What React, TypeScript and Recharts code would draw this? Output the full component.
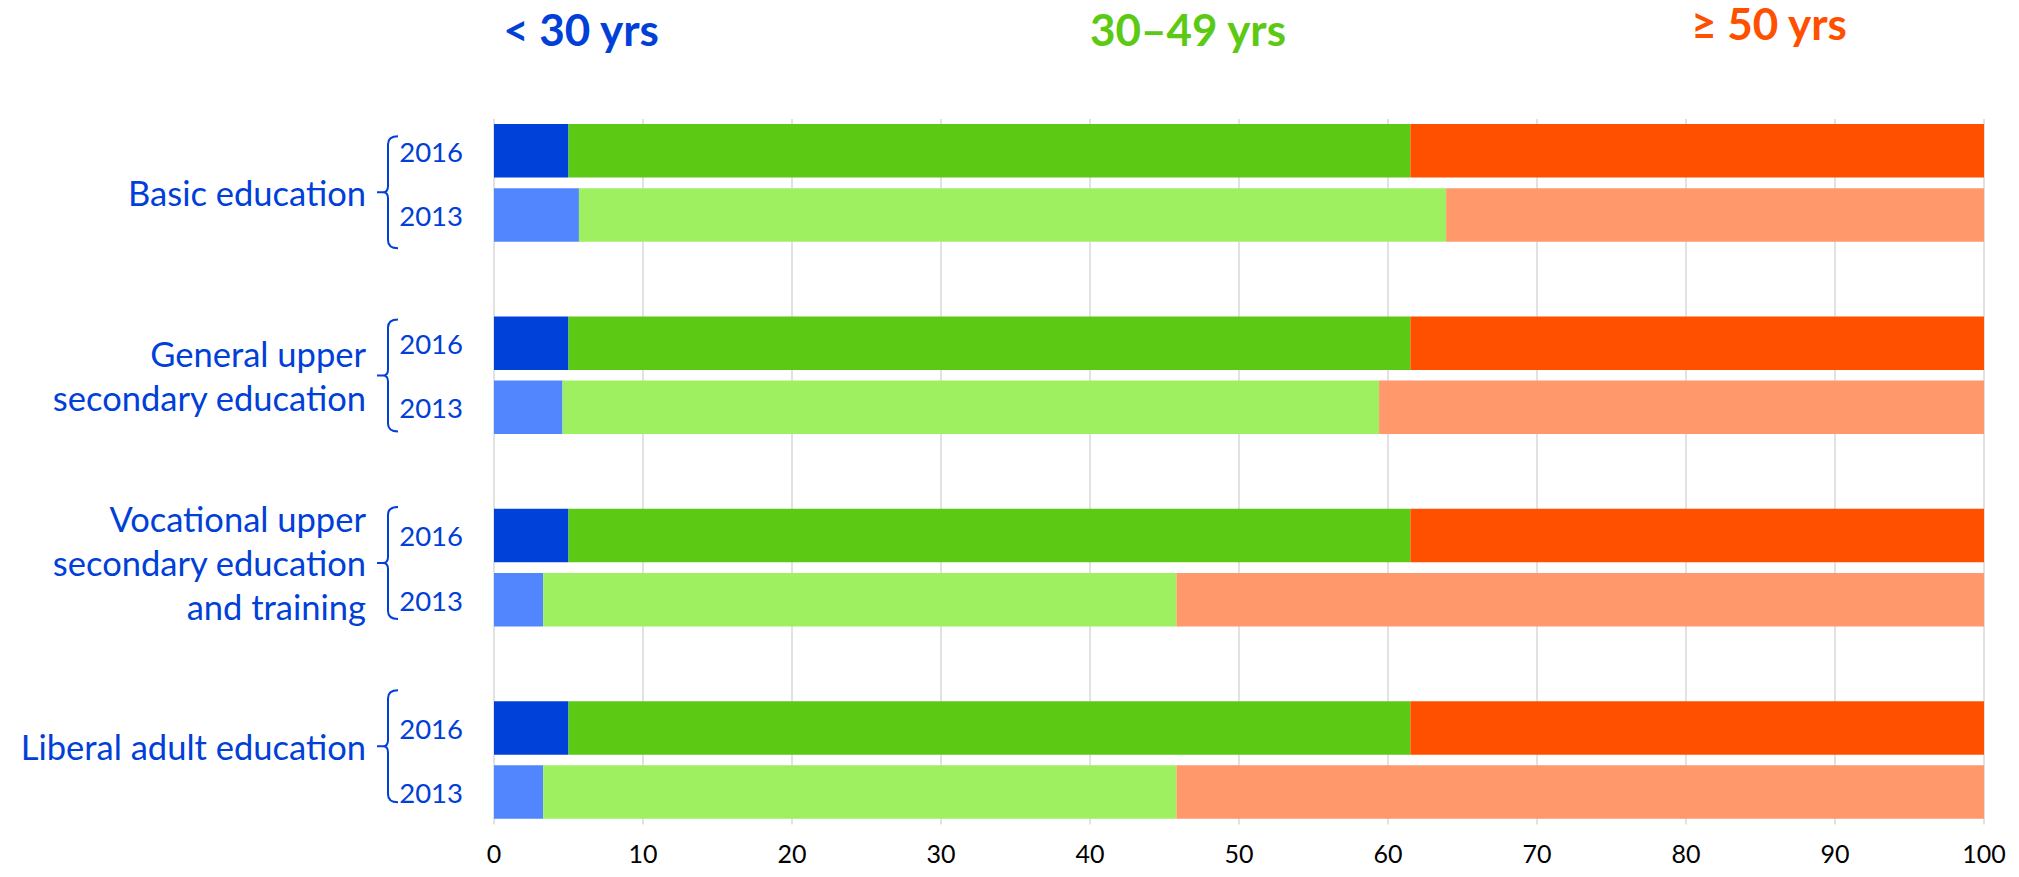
import React from "react";
import { BarChart, Bar, XAxis, YAxis, CartesianGrid, Cell } from "recharts";

// ---------- data ----------
const groupLabels: string[][] = [
  ["Basic education"],
  ["General upper", "secondary education"],
  ["Vocational upper", "secondary education", "and training"],
  ["Liberal adult education"],
];
const years = ["2016", "2013"];
const seriesNames = ["< 30 yrs", "30\u201349 yrs", "\u2265 50 yrs"];

const under30_2016 = [5.0, 5.0, 5.0, 5.0];
const mid_2016 = [56.5, 56.5, 56.5, 56.5];
const over50_2016 = [38.5, 38.5, 38.5, 38.5];

const under30_2013 = [5.7, 4.6, 3.3, 3.3];
const mid_2013 = [58.2, 54.8, 42.5, 42.5];
const over50_2013 = [36.1, 40.6, 54.2, 54.2];

const xTicks = [0, 10, 20, 30, 40, 50, 60, 70, 80, 90, 100];

// ---------- styles ----------
const FONT = "Lato, 'Open Sans', sans-serif";
const BLUE_TEXT = "#0040D8";
const COLORS = {
  u30: { "2016": "#0041D9", "2013": "#5286FF" },
  mid: { "2016": "#5CC914", "2013": "#9EF060" },
  o50: { "2016": "#FF5000", "2013": "#FF986A" },
} as Record<string, Record<string, string>>;
const HEADER_COLORS = ["#0040D8", "#5CC914", "#FF5000"];
// vertical nudge of each group's label + brace (annotation styling)
const LABEL_NUDGE = [9, 0, -5, -14];

const W = 2003;
const H = 861;
const PLOT_LEFT = 486;
const PLOT_RIGHT = 1976;
const PLOT_TOP = 111;
const PLOT_BOTTOM = 816.5;
const MARGIN_BOTTOM = 7;

// ---------- rows ----------
type Row = {
  id: string;
  group: number;
  year: string;
  u30?: number;
  mid?: number;
  o50?: number;
};
const rows: Row[] = [];
groupLabels.forEach((_, g) => {
  rows.push({ id: `g${g}-2016`, group: g, year: years[0], u30: under30_2016[g], mid: mid_2016[g], o50: over50_2016[g] });
  rows.push({ id: `g${g}-2013`, group: g, year: years[1], u30: under30_2013[g], mid: mid_2013[g], o50: over50_2013[g] });
  if (g < groupLabels.length - 1) rows.push({ id: `gap${g}`, group: g, year: "" });
});

const BAND = (PLOT_BOTTOM - PLOT_TOP) / rows.length;

const YTick = (props: any) => {
  const { y, payload } = props;
  const row = rows.find((r) => r.id === payload.value);
  if (!row || !row.year) return null;
  const yearEnd = PLOT_LEFT - 31;
  const els: React.ReactNode[] = [
    <text key="yr" x={yearEnd} y={y} textAnchor="end" dominantBaseline="central" fontSize={27.5} fill={BLUE_TEXT} fontFamily={FONT}>
      {row.year}
    </text>,
  ];
  if (row.year === years[0]) {
    const mid = y + BAND / 2 + LABEL_NUDGE[row.group];
    const top = mid - 56;
    const bot = mid + 56;
    const vx = PLOT_LEFT - 106;
    const hx = vx + 10;
    const tx = vx - 11;
    const d = `M ${hx} ${top} Q ${vx} ${top} ${vx} ${top + 8} L ${vx} ${mid - 6} Q ${vx} ${mid} ${vx - 5} ${mid} L ${tx} ${mid} M ${vx - 5} ${mid} Q ${vx} ${mid} ${vx} ${mid + 6} L ${vx} ${bot - 8} Q ${vx} ${bot} ${hx} ${bot}`;
    els.push(<path key="brace" d={d} stroke={BLUE_TEXT} strokeWidth={2} fill="none" />);
    const lines = groupLabels[row.group];
    const lh = 44;
    const startY = mid - ((lines.length - 1) * lh) / 2;
    lines.forEach((ln, i) => {
      els.push(
        <text key={`gl${i}`} x={PLOT_LEFT - 128} y={startY + i * lh} textAnchor="end" dominantBaseline="central" fontSize={34.5} fill={BLUE_TEXT} fontFamily={FONT}>
          {ln}
        </text>
      );
    });
  }
  return <g>{els}</g>;
};

// header positions in page-overlay coordinates (overlay starts at page top-left)
const headerPos = [
  { x: 581, y: 46 },
  { x: 1188, y: 46 },
  { x: 1769, y: 40 },
];

export default function App() {
  return (
    <div style={{ position: "relative", width: W, height: H, fontFamily: FONT }}>
      <BarChart
        width={W}
        height={H}
        data={rows}
        layout="vertical"
        margin={{ top: PLOT_TOP, right: W - PLOT_RIGHT, bottom: MARGIN_BOTTOM, left: 0 }}
      >
        <CartesianGrid horizontal={false} stroke="#D9D9D9" strokeWidth={1.5} />
        <XAxis
          type="number"
          domain={[0, 100]}
          ticks={xTicks}
          axisLine={false}
          tickLine={false}
          height={H - PLOT_BOTTOM - MARGIN_BOTTOM}
          tickMargin={15}
          tick={{ fontSize: 25, fill: "#000000", fontFamily: FONT }}
        />
        <YAxis
          type="category"
          dataKey="id"
          width={PLOT_LEFT}
          axisLine={false}
          tickLine={false}
          interval={0}
          tick={<YTick />}
        />
        <Bar dataKey="u30" stackId="s" barSize={53.5} isAnimationActive={false}>
          {rows.map((r) => (
            <Cell key={r.id} fill={COLORS.u30[r.year] || "none"} />
          ))}
        </Bar>
        <Bar dataKey="mid" stackId="s" barSize={53.5} isAnimationActive={false}>
          {rows.map((r) => (
            <Cell key={r.id} fill={COLORS.mid[r.year] || "none"} />
          ))}
        </Bar>
        <Bar dataKey="o50" stackId="s" barSize={53.5} isAnimationActive={false}>
          {rows.map((r) => (
            <Cell key={r.id} fill={COLORS.o50[r.year] || "none"} />
          ))}
        </Bar>
      </BarChart>
      <svg
        width={W + 8}
        height={110}
        style={{ position: "absolute", left: -8, top: -8, pointerEvents: "none", overflow: "visible" }}
      >
        {seriesNames.map((n, i) => (
          <text key={n} x={headerPos[i].x} y={headerPos[i].y} textAnchor="middle" fontSize={44} fontWeight={700} fill={HEADER_COLORS[i]} fontFamily={FONT}>
            {n}
          </text>
        ))}
      </svg>
    </div>
  );
}
